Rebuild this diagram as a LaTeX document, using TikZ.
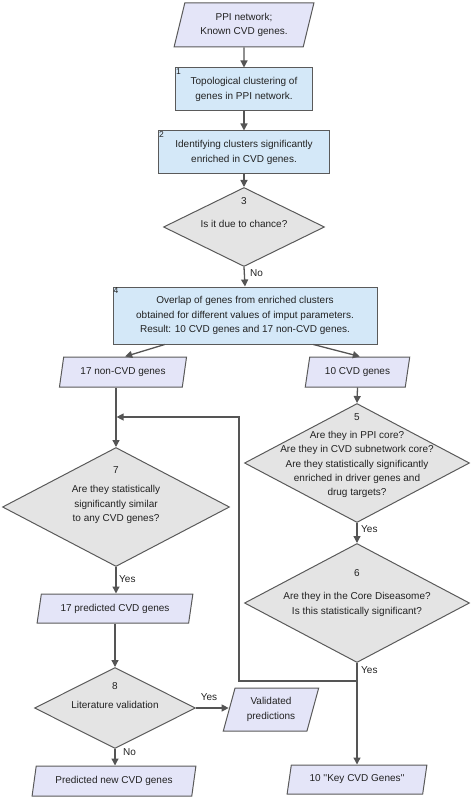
\documentclass[tikz,border=0pt]{standalone}
\usepackage{fontspec}
\setmainfont{Liberation Sans}
\usetikzlibrary{shapes.geometric,arrows.meta,calc}
\definecolor{edgec}{HTML}{5A5A5A}
\definecolor{linec}{HTML}{555555}
\definecolor{parafill}{HTML}{E4E5F8}
\definecolor{boxfill}{HTML}{D4E8F8}
\definecolor{diafill}{HTML}{E4E4E4}
\definecolor{txtc}{HTML}{222222}
\begin{document}
\begin{tikzpicture}[x=1pt,y=-1pt,
  every node/.style={font=\fontsize{10}{14.3}\selectfont, text=txtc},
  para/.style={trapezium, trapezium left angle=71.5, trapezium right angle=108.5,
    trapezium stretches=true, draw=edgec, line width=1pt, fill=parafill,
    inner sep=0pt, align=center},
  procbox/.style={rectangle, draw=edgec, line width=1pt, fill=boxfill,
    inner sep=0pt, align=center},
  dia/.style={diamond, draw=edgec, line width=1pt, fill=diafill, inner sep=0pt},
  txt/.style={align=center, inner sep=0pt},
  tag/.style={font=\fontsize{8.5}{9}\selectfont, inner sep=1pt, anchor=north west},
  lbl/.style={inner sep=0pt},
  arr/.style={draw=linec, line width=1.3pt, -{Triangle[length=7pt,width=7pt]}},
  ln/.style={draw=linec, line width=1.3pt}
]
\useasboundingbox (0,0) rectangle (474,799);

% top input
\node[para, minimum width=140pt, minimum height=44pt] (p0) at (244,25) {PPI network;\\Known CVD genes.};

% process boxes
\node[procbox, minimum width=137pt, minimum height=43pt] (b1) at (244,89.5) {Topological clustering of\\genes in PPI network.};
\node[tag] (b1n) at (b1.north west) {1};
\node[procbox, minimum width=171pt, minimum height=43pt] (b2) at (244,152.5) {Identifying clusters significantly\\enriched in CVD genes.};
\node[tag] (b2n) at (b2.north west) {2};

% diamond 3
\node[dia, minimum width=161pt, minimum height=79pt] (d3) at (244,227) {};
\node[txt] (d3n) at (244,201) {3};
\node[txt] (d3t) at (244,224) {Is it due to chance?};

% box 4
\node[procbox, minimum width=264pt, minimum height=57pt] (b4) at (245,315.5) {Overlap of genes from enriched clusters\\obtained for different values of imput parameters.\\Result: 10 CVD genes and 17 non-CVD genes.};
\node[tag] (b4n) at (b4.north west) {4};

% outputs of 4
\node[para, minimum width=128pt, minimum height=30pt] (p17) at (123,372) {17 non-CVD genes};
\node[para, minimum width=105pt, minimum height=30pt] (p10) at (357.5,372) {10 CVD genes};

% diamond 5
\node[dia, minimum width=225pt, minimum height=119pt] (d5) at (357,463) {};
\node[txt] (d5n) at (357,417) {5};
\node[txt] (d5t) at (357,464.5) {Are they in PPI core?\\Are they in CVD subnetwork core?\\Are they statistically significantly\\enriched in driver genes and\\drug targets?};

% diamond 6
\node[dia, minimum width=225pt, minimum height=119pt] (d6) at (357,603) {};
\node[txt] (d6n) at (357,573) {6};
\node[txt] (d6t) at (357,604.5) {Are they in the Core Diseasome?\\Is this statistically significant?};

% diamond 7
\node[dia, minimum width=227pt, minimum height=119pt] (d7) at (116,507) {};
\node[txt] (d7n) at (116,470) {7};
\node[txt] (d7t) at (116,504.5) {Are they statistically\\significantly similar\\to any CVD genes?};

% left lower column
\node[para, minimum width=156pt, minimum height=29pt] (p17p) at (115,608.5) {17 predicted CVD genes};
\node[dia, minimum width=161pt, minimum height=81pt] (d8) at (115,708) {};
\node[txt] (d8n) at (115,686) {8};
\node[txt] (d8t) at (115,705) {Literature validation};
\node[para, minimum width=96pt, minimum height=43pt] (pval) at (271,709.5) {Validated\\predictions};
\node[para, minimum width=164pt, minimum height=30pt] (pnew) at (114,781) {Predicted new CVD genes};
\node[para, minimum width=140pt, minimum height=29pt] (pkey) at (357,779.5) {10 \textquotesingle\textquotesingle Key CVD Genes\textquotesingle\textquotesingle};

% connectors
\draw[arr] (p0.south) -- (b1.north);
\draw[arr] (b1.south) -- (b2.north);
\draw[arr] (b2.south) -- (d3.north);
\draw[arr] (d3.south) -- (b4.north);
\node[lbl, anchor=west] (no3) at (250,273) {No};

\draw[arr] ($(b4.south west)!0.197!(b4.south east)$) -- (p17.top side);
\draw[arr] ($(b4.south west)!0.758!(b4.south east)$) -- (p10.top side);

\draw[arr] (p17.south -| d7.north) -- (d7.north);
\draw[arr] (p10.south) -- (d5.north);
\draw[arr] (d5.south) -- (d6.north);
\node[lbl, anchor=west] (yes5) at (361,529) {Yes};

\draw[arr] (d7.south) -- (d7.south |- p17p.north);
\node[lbl, anchor=west] (yes7) at (119,579) {Yes};

\draw[arr] (p17p.south -| d8.north) -- (d8.north);
\draw[arr] (d8.east) -- (d8.east -| pval.left side);
\node[lbl] (yes8) at (209,697) {Yes};
\draw[arr] (d8.south) -- (d8.south |- pnew.north);
\node[lbl, anchor=west] (no8) at (123,752) {No};

\draw[arr] (d6.south) -- (d6.south |- pkey.north);
\node[lbl, anchor=west] (yes6) at (361,670) {Yes};

% feedback loop
\coordinate (fbb) at (239,681);
\coordinate (fbt) at (239,417);
\draw[arr, shorten >=0.6pt] (d6.south |- fbb) -- (fbb) -- (fbt) -- (fbt -| d7.north);
\end{tikzpicture}
\end{document}
